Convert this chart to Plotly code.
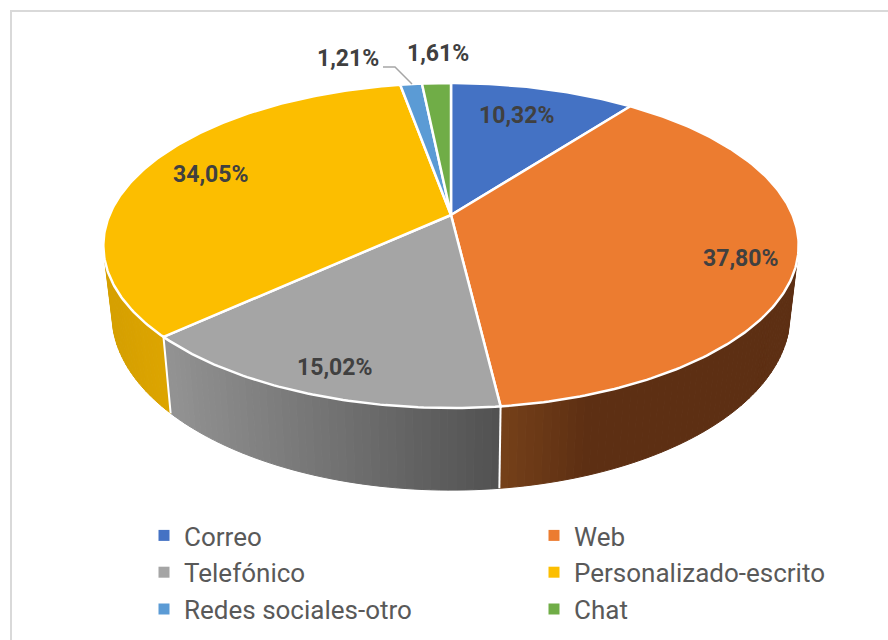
import math
import plotly.graph_objects as go

# ---- data ----
categories = ["Correo", "Web", "Telefónico", "Personalizado-escrito", "Redes sociales-otro", "Chat"]
shares = [10.32, 37.80, 15.02, 34.05, 1.21, 1.61]

# ---- style ----
colors = ["#4472C4", "#EC7C30", "#A5A5A5", "#FCBE00", "#5B9BD5", "#70AD47"]
label_px = [(516, 115), (740, 258), (334, 367), (210, 174), (348, 58), (438, 53)]
FONT = "Roboto, Arial, sans-serif"

# perspective disc: top face and bottom face of the pie
K = 0.1877
TOP = dict(cx=451, cy=215, R=341.5, S=156.8)
BOT = dict(cx=451, cy=281.7, R=333.0, S=169.3)


def project(theta_deg, d):
    t = math.radians(theta_deg)
    u, v = math.sin(t), math.cos(t)
    den = 1 + K * v
    return d["cx"] + d["R"] * u / den, d["cy"] - d["S"] * v / den


def lerp(a, b, t):
    t = max(0.0, min(1.0, t))
    return a + (b - a) * t


def wall_color(i, x):
    if i == 1:  # Web
        t = (x - 500) / 90
        c = (lerp(118, 93, t), lerp(65, 47, t), lerp(26, 19, t))
    elif i == 2:  # Telefónico
        t = (x - 171) / 328
        g = lerp(146, 82, t)
        c = (g, g, g)
    elif i == 3:  # Personalizado
        t = (x - 110) / 60
        c = (lerp(214, 222, t), lerp(160, 166, t), 0)
    else:
        c = (120, 120, 120)
    return "rgb(%d,%d,%d)" % c


total = sum(shares)
edges = [0.0]
for s in shares:
    edges.append(edges[-1] + s / total * 360)

fig = go.Figure()
VIS_A, VIS_B = 106.0, 254.5

# side walls, drawn as shaded strips
for i in range(len(shares)):
    a, b = max(edges[i], VIS_A), min(edges[i + 1], VIS_B)
    if a >= b:
        continue
    n = max(2, int((b - a) / 1.2))
    for j in range(n):
        t0 = a + (b - a) * j / n
        t1 = a + (b - a) * (j + 1) / n
        p = [project(t0, TOP), project(t1, TOP), project(t1, BOT), project(t0, BOT)]
        xs = [q[0] for q in p] + [p[0][0]]
        ys = [q[1] for q in p] + [p[0][1]]
        col = wall_color(i, (p[0][0] + p[1][0]) / 2)
        fig.add_trace(go.Scatter(x=xs, y=ys, mode="lines", fill="toself", fillcolor=col,
                                 line=dict(color=col, width=1), showlegend=False, hoverinfo="skip"))

# white separators on the wall
for e in edges[1:-1]:
    if VIS_A < e < VIS_B:
        p0, p1 = project(e, TOP), project(e, BOT)
        fig.add_trace(go.Scatter(x=[p0[0], p1[0]], y=[p0[1], p1[1]], mode="lines",
                                 line=dict(color="white", width=2), showlegend=False, hoverinfo="skip"))

# top face
for i in range(len(shares)):
    n = max(3, int((edges[i + 1] - edges[i]) / 0.75))
    pts = [project(edges[i] + (edges[i + 1] - edges[i]) * j / n, TOP) for j in range(n + 1)]
    xs = [TOP["cx"]] + [q[0] for q in pts] + [TOP["cx"]]
    ys = [TOP["cy"]] + [q[1] for q in pts] + [TOP["cy"]]
    fig.add_trace(go.Scatter(x=xs, y=ys, mode="lines", fill="toself", fillcolor=colors[i],
                             line=dict(color="white", width=2.5), showlegend=False, hoverinfo="skip",
                             name=categories[i]))

# leader line for the small slice
fig.add_trace(go.Scatter(x=[383, 395, 412], y=[67, 67, 84], mode="lines",
                         line=dict(color="#A6A6A6", width=1.5), showlegend=False, hoverinfo="skip"))

# legend entries: two columns, each its own legend
for k, (c, col) in enumerate(zip(categories, colors)):
    fig.add_trace(go.Scatter(x=[None], y=[None], mode="markers", name=c,
                             legend="legend" if k % 2 == 0 else "legend2",
                             marker=dict(symbol="square", size=11, color=col)))

annotations = [
    dict(x=px, y=py, xref="x", yref="y", text="<b>%s%%</b>" % f"{s:.2f}".replace(".", ","),
         showarrow=False, font=dict(family=FONT, size=23, color="#404040"))
    for s, (px, py) in zip(shares, label_px)
]

legend_style = dict(yanchor="top", xanchor="left", y=1 - 512 / 640, traceorder="normal",
                    font=dict(family=FONT, size=26, color="#595959"),
                    bgcolor="rgba(0,0,0,0)", itemclick=False, itemdoubleclick=False)

fig.update_layout(
    width=888, height=640, autosize=False,
    margin=dict(l=0, r=0, t=0, b=0),
    paper_bgcolor="white", plot_bgcolor="white",
    xaxis=dict(range=[0, 888], visible=False, fixedrange=True),
    yaxis=dict(range=[640, 0], visible=False, fixedrange=True),
    annotations=annotations,
    shapes=[
        dict(type="line", xref="x", yref="y", x0=10, x1=888, y0=11, y1=11, line=dict(color="#D9D9D9", width=2)),
        dict(type="line", xref="x", yref="y", x0=11, x1=11, y0=10, y1=640, line=dict(color="#D9D9D9", width=2)),
    ],
    legend=dict(x=144 / 888, **legend_style),
    legend2=dict(x=534 / 888, **legend_style),
    showlegend=True,
)

fig.write_html("out.html", config={"displayModeBar": False},
               post_script="document.body.style.margin='0';document.body.style.overflow='hidden';")
